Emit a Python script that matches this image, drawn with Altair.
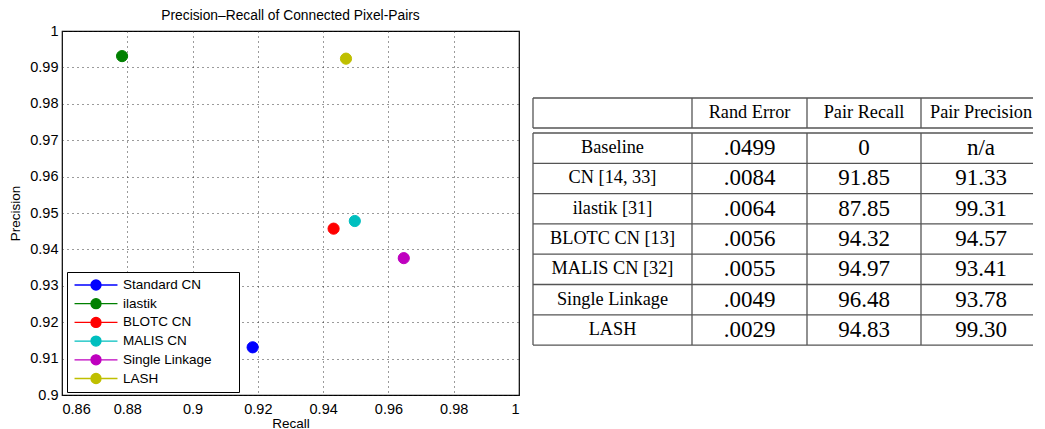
import altair as alt
import pandas as pd

# ---------------- data ----------------
methods = ["Standard CN", "ilastik", "BLOTC CN", "MALIS CN", "Single Linkage", "LASH"]
recall = [0.9184, 0.8784, 0.9432, 0.9497, 0.9647, 0.9470]
precision = [0.9131, 0.9931, 0.9457, 0.9478, 0.9376, 0.9924]
colors = ["#0000FF", "#008000", "#FF0000", "#00BFBF", "#BF00BF", "#BFBF00"]

x_ticks = [0.86, 0.88, 0.90, 0.92, 0.94, 0.96, 0.98, 1.0]
y_ticks = [0.90, 0.91, 0.92, 0.93, 0.94, 0.95, 0.96, 0.97, 0.98, 0.99, 1.0]

row_labels = ["Baseline", "CN [14, 33]", "ilastik [31]", "BLOTC CN [13]",
              "MALIS CN [32]", "Single Linkage", "LASH"]
col_headers = ["Rand Error", "Pair Recall", "Pair Precision"]
rand_error = [".0499", ".0084", ".0064", ".0056", ".0055", ".0049", ".0029"]
pair_recall = ["0", "91.85", "87.85", "94.32", "94.97", "96.48", "94.83"]
pair_precision = ["n/a", "91.33", "99.31", "94.57", "93.41", "93.78", "99.30"]

SANS = "Liberation Sans"
SERIF = "Liberation Serif"

# ---------------- scatter ----------------
df = pd.DataFrame({"method": methods, "recall": recall, "precision": precision})
color_scale = alt.Scale(domain=methods, range=colors)
sym_path = "M-3,0H3M-0.7,0A0.7,0.7,0,1,1,0.7,0A0.7,0.7,0,1,1,-0.7,0Z"
legend = alt.Legend(
    title="\u2003", titleOrient="right", titleFontSize=15, titlePadding=22,
    orient="none", legendX=5, legendY=241,
    symbolType=sym_path, symbolSize=205, symbolStrokeWidth=1.3, symbolOffset=16,
    labelFont=SANS, labelFontSize=13.5, labelColor="black", labelOffset=19,
    padding=5, rowPadding=2.7, strokeColor="black", fillColor="white",
    cornerRadius=0, values=methods,
)

scatter = alt.Chart(df).mark_point(
    shape="circle", size=125, opacity=1, strokeWidth=1, filled=True
).encode(
    x=alt.X("recall:Q",
            scale=alt.Scale(domain=[0.86, 1.0], nice=False, zero=False),
            axis=alt.Axis(values=x_ticks, format="~g", title="Recall",
                          grid=True, gridDash=[1, 4], gridColor="#222",
                          gridOpacity=0.9, ticks=False, tickSize=0, domain=False,
                          labelPadding=7, titlePadding=1)),
    y=alt.Y("precision:Q",
            scale=alt.Scale(domain=[0.9, 1.0], nice=False, zero=False),
            axis=alt.Axis(values=y_ticks, format="~g", title="Precision",
                          grid=True, gridDash=[1, 4], gridColor="#222",
                          gridOpacity=0.9, ticks=False, tickSize=0, domain=False,
                          labelPadding=4, titlePadding=7)),
    fill=alt.Fill("method:N", scale=color_scale, legend=legend, sort=methods),
    stroke=alt.Stroke("method:N", scale=color_scale, legend=legend, sort=methods),
).properties(
    width=457, height=364,
    title=alt.TitleParams("Precision–Recall of Connected Pixel-Pairs",
                          font=SANS, fontSize=13.8, fontWeight="normal",
                          color="black", offset=0),
)

# ---------------- table ----------------
TBL_LEFT = 12          # table left border inside the table panel
TBL_TOP = 67           # table top border inside the table panel
col_w = [159, 115, 114, 120]
header_h = 30
gap = 5
row_h = 30.3
PANEL_W = 512
PANEL_H = 320

col_edges = [TBL_LEFT]
for w in col_w:
    col_edges.append(col_edges[-1] + w)
col_centers = [(col_edges[i] + col_edges[i + 1]) / 2 for i in range(4)]
body_top = TBL_TOP + header_h + gap
n_rows = len(row_labels)
body_bottom = body_top + n_rows * row_h

h_lines = [TBL_TOP, TBL_TOP + header_h] + [body_top + k * row_h for k in range(n_rows + 1)]
hdf = pd.DataFrame({"x": [TBL_LEFT] * len(h_lines), "x2": [PANEL_W] * len(h_lines),
                    "y": h_lines, "y2": h_lines})
vrows = []
for xe in col_edges[:4]:
    vrows.append({"x": xe, "x2": xe, "y": TBL_TOP, "y2": TBL_TOP + header_h})
    vrows.append({"x": xe, "x2": xe, "y": body_top, "y2": body_bottom})
vdf = pd.DataFrame(vrows)
lines_df = pd.concat([hdf, vdf], ignore_index=True)

xs = alt.Scale(domain=[0, PANEL_W], nice=False, zero=False)
ys = alt.Scale(domain=[0, PANEL_H], nice=False, zero=False, reverse=True)

rules = alt.Chart(lines_df).mark_rule(color="#555", strokeWidth=1.3).encode(
    x=alt.X("x:Q", scale=xs, axis=None), x2="x2:Q",
    y=alt.Y("y:Q", scale=ys, axis=None), y2="y2:Q",
)

header_df = pd.DataFrame({"text": col_headers, "x": col_centers[1:],
                          "y": [TBL_TOP + header_h / 2] * 3})
row_centers = [body_top + row_h * (i + 0.5) for i in range(n_rows)]
label_df = pd.DataFrame({"text": row_labels, "x": [col_centers[0]] * n_rows, "y": row_centers})
num_rows = []
for j, col in enumerate([rand_error, pair_recall, pair_precision]):
    for i, v in enumerate(col):
        num_rows.append({"text": v, "x": col_centers[j + 1], "y": row_centers[i]})
num_df = pd.DataFrame(num_rows)


def text_layer(data, size):
    return alt.Chart(data).mark_text(
        font=SERIF, fontSize=size, color="black", align="center", baseline="middle"
    ).encode(
        x=alt.X("x:Q", scale=xs, axis=None),
        y=alt.Y("y:Q", scale=ys, axis=None),
        text="text:N",
    )


table = alt.layer(
    rules,
    text_layer(header_df, 18.3),
    text_layer(label_df, 18.3),
    text_layer(num_df, 23),
).properties(width=PANEL_W, height=PANEL_H,
             view=alt.ViewBackground(stroke="transparent"))

chart = alt.hconcat(scatter, table, spacing=0).properties(
    padding=0
).configure_view(
    stroke="black", strokeWidth=1.2
).configure_axis(
    labelFont=SANS, labelFontSize=14.5, labelColor="black",
    titleFont=SANS, titleFontSize=13.5, titleColor="black", titleFontWeight="normal",
)

chart.save("out.html", embed_options={"renderer": "svg", "actions": False})
